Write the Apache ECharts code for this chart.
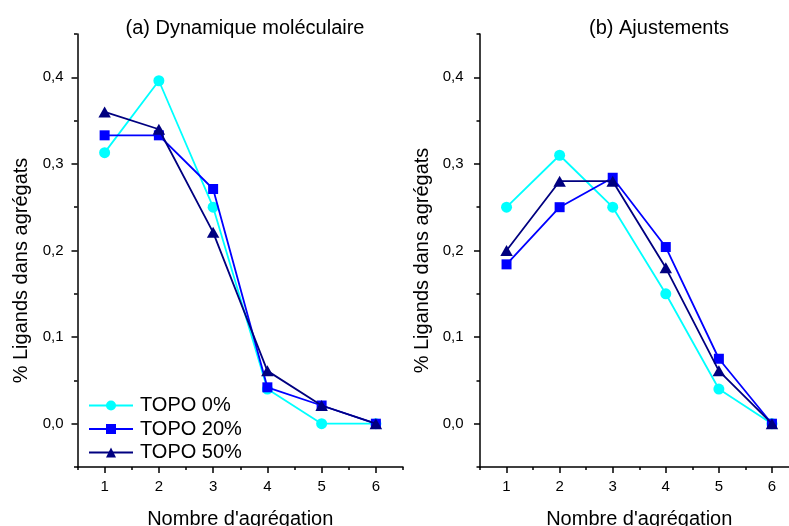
<!DOCTYPE html>
<html><head><meta charset="utf-8">
<script src="https://cdn.jsdelivr.net/npm/echarts@6/dist/echarts.min.js"></script>
<style>html,body{margin:0;padding:0;background:#fff;overflow:hidden}#c{width:799px;height:526px}</style>
</head><body><div id="c"></div>
<script>
// ---- data ----
const xValues = [1, 2, 3, 4, 5, 6];
const seriesNames = ['TOPO 0%', 'TOPO 20%', 'TOPO 50%'];
const mdTopo0  = [0.313, 0.396, 0.250, 0.040, 0.000, 0.000];
const mdTopo20 = [0.333, 0.333, 0.271, 0.042, 0.021, 0.000];
const mdTopo50 = [0.360, 0.340, 0.221, 0.061, 0.021, 0.000];
const fitTopo0  = [0.250, 0.310, 0.250, 0.150, 0.040, 0.000];
const fitTopo20 = [0.184, 0.250, 0.284, 0.204, 0.075, 0.000];
const fitTopo50 = [0.200, 0.280, 0.280, 0.180, 0.061, 0.000];
const xTickLabels = [1, 2, 3, 4, 5, 6];
const yTickLabels = [0, 0.1, 0.2, 0.3, 0.4];
const titles = ['(a) Dynamique moléculaire', '(b) Ajustements'];
const xName = "Nombre d'agrégation";
const yName = '% Ligands dans agrégats';

// ---- styles ----
const FONT = '"Liberation Sans", Arial, sans-serif';
const colors = ['#00ffff', '#0000ff', '#000080'];
const symbols = ['circle', 'rect', 'triangle'];
const symbolSizes = [11, 10, [12.5, 11]];

const chart = echarts.init(document.getElementById('c'), null, {renderer: 'canvas'});

const grids = [
  {left: 77.5, right: 396, top: 34, bottom: 59, outerBoundsMode: 'none', containLabel: false},
  {left: 480, right: 0.5, top: 34, bottom: 59, outerBoundsMode: 'none', containLabel: false}
];
const yLabelMargin = [14, 16.5];
const yNameGap = [46, 48];
const yNamePad = [40, 20];

const xAxis = [], yAxis = [];
grids.forEach((g, gi) => {
  xAxis.push({
    type: 'value', gridIndex: gi, position: 'bottom', min: 0.5, max: 6.5, interval: 0.5,
    axisLine: {show: true, onZero: false, lineStyle: {color: '#000', width: 1.5}},
    axisTick: {show: true, length: 3, lineStyle: {color: '#000', width: 1.5}},
    axisLabel: {customValues: xTickLabels, margin: 12, color: '#000', fontSize: 15, fontFamily: FONT},
    splitLine: {show: false},
    name: xName, nameLocation: 'middle', nameGap: 42,
    nameTextStyle: {color: '#000', fontSize: 20, fontFamily: FONT}
  });
  xAxis.push({
    type: 'value', gridIndex: gi, position: 'bottom', offset: 0, min: 0.5, max: 6.5, interval: 0.5,
    axisLine: {show: false, onZero: false},
    axisTick: {show: true, customValues: xTickLabels, length: 6, lineStyle: {color: '#000', width: 1.5}},
    axisLabel: {show: false}, splitLine: {show: false}
  });
  yAxis.push({
    type: 'value', gridIndex: gi, position: 'left', min: -0.05, max: 0.45, interval: 0.05,
    axisLine: {show: true, onZero: false, lineStyle: {color: '#000', width: 1.5}},
    axisTick: {show: true, length: 3.5, lineStyle: {color: '#000', width: 1.5}},
    axisLabel: {customValues: yTickLabels, margin: yLabelMargin[gi], color: '#000', fontSize: 15, fontFamily: FONT,
      formatter: v => v.toFixed(1).replace('.', ',')},
    splitLine: {show: false},
    name: yName, nameLocation: 'middle', nameGap: yNameGap[gi], nameRotate: 90,
    nameTextStyle: {color: '#000', fontSize: 20, fontFamily: FONT, padding: [0, yNamePad[gi], 0, 0]}
  });
  yAxis.push({
    type: 'value', gridIndex: gi, position: 'left', offset: 0, min: -0.05, max: 0.45, interval: 0.05,
    axisLine: {show: false, onZero: false},
    axisTick: {show: true, customValues: yTickLabels, length: 6, lineStyle: {color: '#000', width: 1.5}},
    axisLabel: {show: false}, splitLine: {show: false}
  });
});

const panelData = [[mdTopo0, mdTopo20, mdTopo50], [fitTopo0, fitTopo20, fitTopo50]];
const series = [];
panelData.forEach((arrs, gi) => {
  arrs.forEach((arr, si) => {
    series.push({
      name: seriesNames[si], type: 'line',
      xAxisIndex: gi * 2, yAxisIndex: gi * 2,
      data: xValues.map((x, i) => [x, arr[i]]),
      symbol: symbols[si], symbolSize: symbolSizes[si], showAllSymbol: true,
      color: colors[si],
      lineStyle: {color: colors[si], width: 1.8},
      itemStyle: {color: colors[si]},
      z: 2 + si, clip: false, animation: false
    });
  });
});

chart.setOption({
  backgroundColor: '#fff',
  animation: false,
  title: [
    {text: titles[0], left: 240, top: 13, textAlign: 'center',
     textStyle: {color: '#000', fontSize: 20, fontWeight: 'normal', fontFamily: FONT}},
    {text: titles[1], left: 654, top: 13, textAlign: 'center',
     textStyle: {color: '#000', fontSize: 20, fontWeight: 'normal', fontFamily: FONT}}
  ],
  legend: {
    data: seriesNames, orient: 'vertical', left: 88, top: 395.5, padding: 0,
    itemWidth: 44, itemHeight: 12.5, itemGap: 3.5, selectedMode: false,
    textStyle: {color: '#000', fontSize: 20, fontFamily: FONT, padding: [0, 0, 0, 2]}
  },
  grid: grids,
  xAxis, yAxis, series
});
</script></body></html>
